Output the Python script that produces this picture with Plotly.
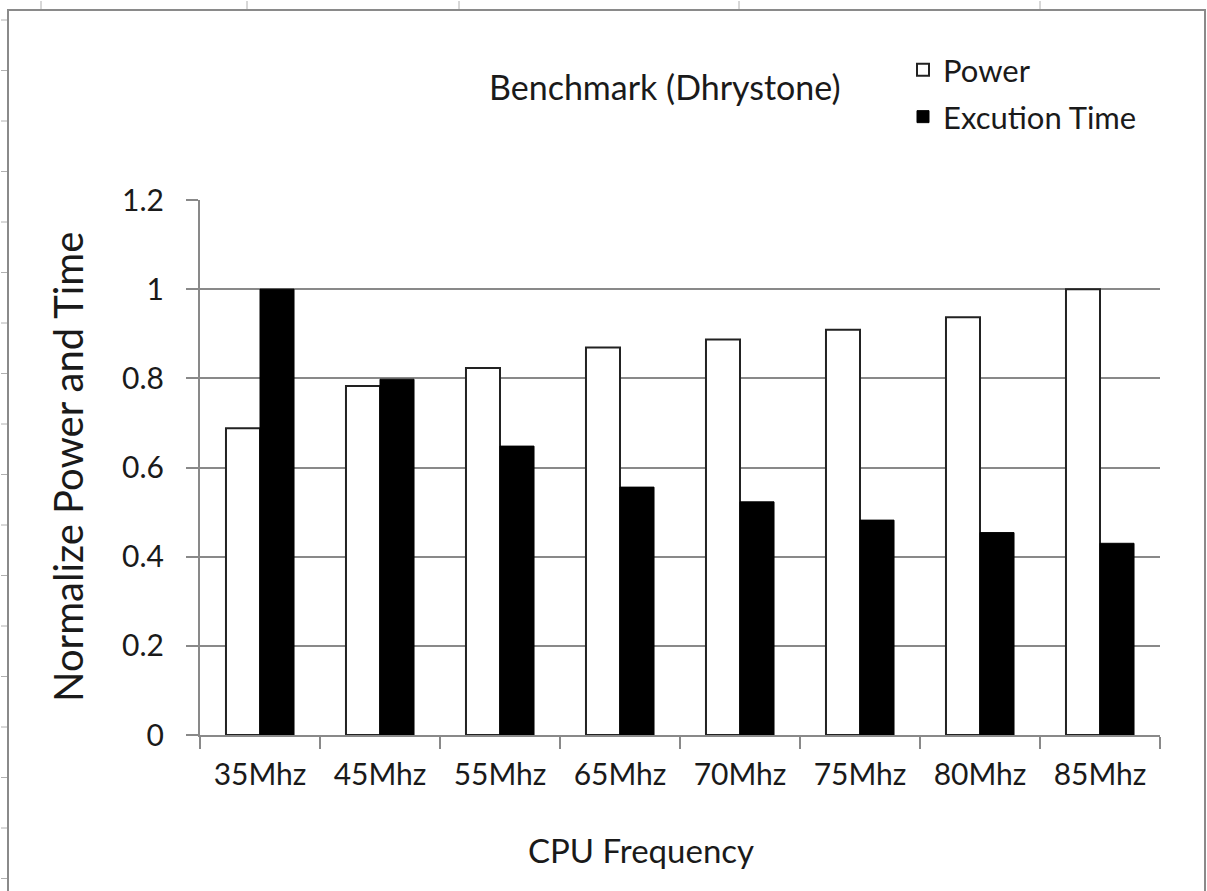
import plotly.graph_objects as go

categories = ["35Mhz", "45Mhz", "55Mhz", "65Mhz", "70Mhz", "75Mhz", "80Mhz", "85Mhz"]
power = [0.688, 0.783, 0.823, 0.869, 0.887, 0.909, 0.937, 1.0]
exec_time = [1.0, 0.798, 0.648, 0.556, 0.523, 0.482, 0.454, 0.430]
y_tickvals = [0, 0.2, 0.4, 0.6, 0.8, 1.0, 1.2]
y_ticktext = ["0", "0.2", "0.4", "0.6", "0.8", "1", "1.2"]

W, H = 1207, 891
L, R, T, B = 200, 1160, 200, 735  # plot area in pixels
FONT = "Lato"
GRAY = "#898989"


def px_x(px):
    return (px - L) / (R - L)


def px_y(py):
    return (B - py) / (B - T)


fig = go.Figure()
fig.add_trace(go.Bar(
    x=categories, y=power, name="Power",
    marker=dict(color="white", line=dict(color="#222222", width=2)),
    legend="legend",
))
fig.add_trace(go.Bar(
    x=categories, y=exec_time, name="Excution Time",
    marker=dict(color="black", line=dict(color="black", width=1)),
    legend="legend2",
))

shapes = []
# outer chart frame
shapes.append(dict(type="rect", xref="paper", yref="paper",
                   x0=px_x(8), x1=px_x(1205), y0=px_y(10), y1=px_y(900),
                   line=dict(color="#8a8a8a", width=2), fillcolor="rgba(0,0,0,0)", layer="below"))
# sheet grid tick artifacts on the left edge
for i in range(18):
    yy = 20 + i * 50.5
    shapes.append(dict(type="line", xref="paper", yref="paper",
                       x0=px_x(1), x1=px_x(7), y0=px_y(yy), y1=px_y(yy),
                       line=dict(color="#b0b0b0", width=1)))
# and on the top edge
for xx in [41, 247, 459, 739, 1040]:
    shapes.append(dict(type="line", xref="paper", yref="paper",
                       x0=px_x(xx), x1=px_x(xx), y0=px_y(1), y1=px_y(9),
                       line=dict(color="#b0b0b0", width=1)))

annotations = [
    dict(text="Benchmark (Dhrystone)", x=px_x(665), y=px_y(87), xref="paper", yref="paper",
         showarrow=False, xanchor="center", yanchor="middle",
         font=dict(family=FONT, size=34, color="#1a1a1a")),
    dict(text="Normalize Power and Time", x=px_x(68), y=px_y(467), xref="paper", yref="paper",
         showarrow=False, xanchor="center", yanchor="middle", textangle=-90,
         font=dict(family=FONT, size=40, color="#1a1a1a")),
    dict(text="CPU Frequency", x=px_x(641), y=px_y(850), xref="paper", yref="paper",
         showarrow=False, xanchor="center", yanchor="middle",
         font=dict(family=FONT, size=33, color="#1a1a1a")),
]

fig.update_layout(
    width=W, height=H,
    margin=dict(l=L, r=W - R, t=T, b=H - B),
    paper_bgcolor="white", plot_bgcolor="white",
    barmode="group", bargap=0.433, bargroupgap=0,
    showlegend=True,
    legend=dict(x=px_x(903), y=px_y(70), xanchor="left", yanchor="middle",
                font=dict(family=FONT, size=31, color="#1a1a1a"), bgcolor="rgba(0,0,0,0)"),
    legend2=dict(x=px_x(903), y=px_y(117), xanchor="left", yanchor="middle",
                 font=dict(family=FONT, size=31, color="#1a1a1a"), bgcolor="rgba(0,0,0,0)"),
    shapes=shapes,
    annotations=annotations,
    xaxis=dict(
        type="category", showline=True, linecolor=GRAY, linewidth=2,
        ticks="outside", tickson="boundaries", ticklen=12, tickwidth=2, tickcolor=GRAY,
        tickfont=dict(family=FONT, size=30, color="#1a1a1a"),
        showgrid=False, ticklabelstandoff=12,
    ),
    yaxis=dict(
        range=[0, 1.2], tickvals=y_tickvals, ticktext=y_ticktext,
        showline=True, linecolor=GRAY, linewidth=2,
        ticks="outside", ticklen=12, tickwidth=2, tickcolor=GRAY,
        showgrid=True, gridcolor=GRAY, gridwidth=2, zeroline=False,
        tickfont=dict(family=FONT, size=30, color="#1a1a1a"),
        ticklabelstandoff=16,
    ),
)

fig.write_html("out.html")
